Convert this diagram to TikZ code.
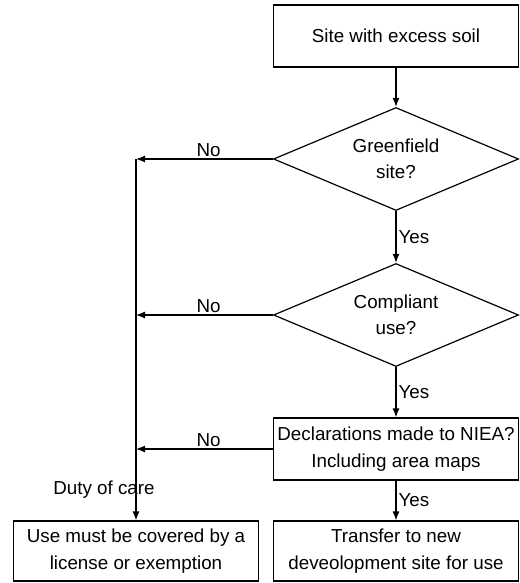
\documentclass[tikz,border=0pt]{standalone}
\usepackage{fontspec}
\setmainfont{Liberation Sans}
\usetikzlibrary{shapes.geometric,arrows.meta}
\begin{document}
\begin{tikzpicture}[x=1pt, y=-1pt, line width=1.2pt, >={Latex[length=9pt,width=7pt]},
    font=\fontsize{18.8}{26.5}\selectfont,
    box/.style={draw, rectangle, minimum width=245pt, minimum height=62pt, align=center, inner sep=1pt},
    decision/.style={draw, diamond, aspect=2.4, minimum width=245pt, minimum height=103pt, align=center, inner sep=0pt},
    lbl/.style={inner sep=2pt}]
    \useasboundingbox (0,0) rectangle (519,583);
    \node[box] (site) at (396,36) {Site with excess soil};
    \node[decision] (green) at (396,159) {Greenfield\\site?};
    \node[decision] (comply) at (396,315) {Compliant\\use?};
    \node[box] (declare) at (396,449) {Declarations made to NIEA?\\Including area maps};
    \node[box, minimum height=60pt] (transfer) at (396,551) {Transfer to new\\deveolopment site for use};
    \node[box, minimum height=60pt] (licence) at (136,551) {Use must be covered by a\\license or exemption};
    \node[inner sep=0pt] (duty) at (104,490) {Duty of care};
    \coordinate (trunk) at (136,159);

    \draw[->] (site) -- (green);
    \draw[->] (green) -- node[lbl, right]{Yes} (comply);
    \draw[->] (comply) -- node[lbl, right]{Yes} (declare);
    \draw[->] (declare) -- node[lbl, right]{Yes} (transfer);

    \draw[->] (green.west) -- node[lbl, above, pos=0.47]{No} (trunk);
    \draw[->] (comply.west) -- node[lbl, above, pos=0.47]{No} (comply.west -| trunk);
    \draw[->] (declare.west) -- node[lbl, above, pos=0.47]{No} (declare.west -| trunk);
    \draw[->] (trunk) -- (licence.north);
\end{tikzpicture}
\end{document}
